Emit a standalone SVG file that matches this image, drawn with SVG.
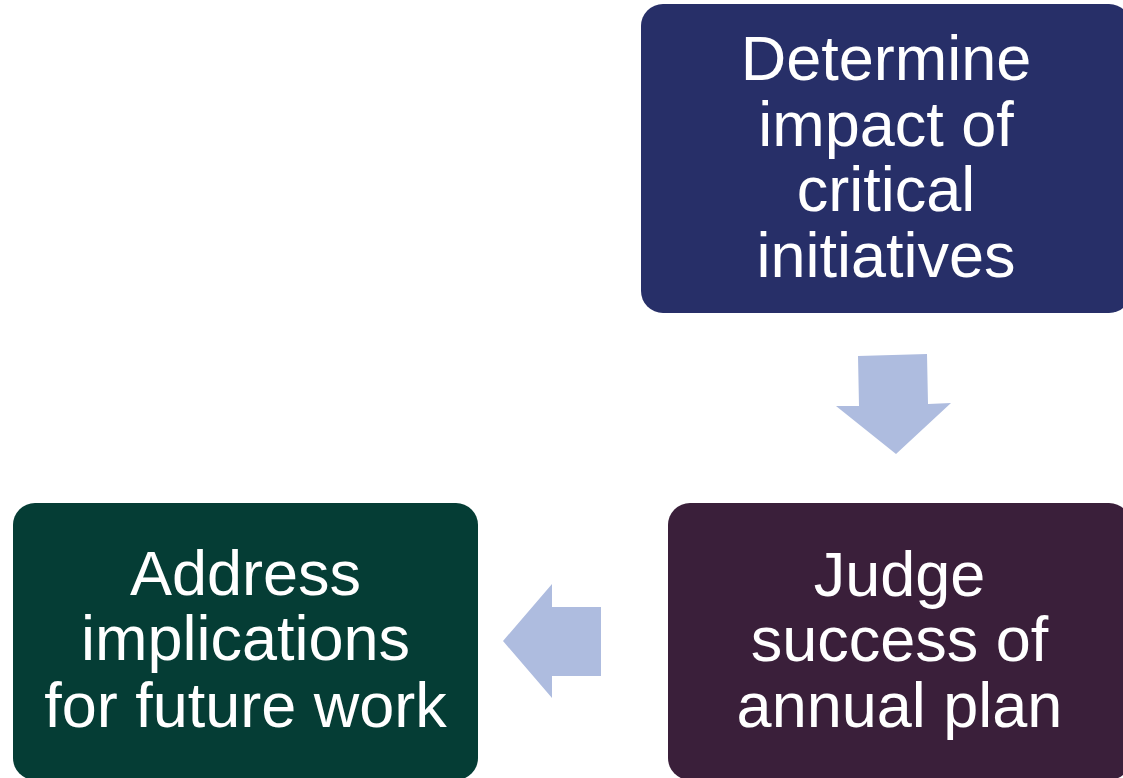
<svg xmlns="http://www.w3.org/2000/svg" width="1123" height="778" viewBox="0 0 1123 778">
  <style>
    .lbl { font-family: "Liberation Sans", Arial, sans-serif; font-size: 63px; fill: #ffffff; text-anchor: middle; }
    .arrow { fill: #aebcdf; }
  </style>
  <rect x="0" y="0" width="1123" height="778" fill="#ffffff"/>
  <g id="node-determine">
    <rect x="641" y="4" width="490" height="309" rx="22" ry="22" fill="#272f68"/>
    <text class="lbl" x="886" y="80">Determine</text>
    <text class="lbl" x="886" y="145.5">impact of</text>
    <text class="lbl" x="886" y="211">critical</text>
    <text class="lbl" x="886" y="276.5">initiatives</text>
  </g>
  <g id="node-judge">
    <rect x="668" y="503" width="463" height="277" rx="22" ry="22" fill="#3a1f3a"/>
    <text class="lbl" x="899.5" y="596">Judge</text>
    <text class="lbl" x="899.5" y="661">success of</text>
    <text class="lbl" x="899.5" y="727">annual plan</text>
  </g>
  <g id="node-address">
    <rect x="13" y="503" width="465" height="277" rx="22" ry="22" fill="#053d35"/>
    <text class="lbl" x="245.5" y="595">Address</text>
    <text class="lbl" x="245.5" y="660">implications</text>
    <text class="lbl" x="245.5" y="727">for future work</text>
  </g>
  <g id="connectors">
    <polygon class="arrow" points="858,356 927,354 928,404 951,403 896,454 836,406 859,406"/>
    <polygon class="arrow" points="503,641 552,584 552,607 601,607 601,676 552,676 552,698"/>
  </g>
</svg>
